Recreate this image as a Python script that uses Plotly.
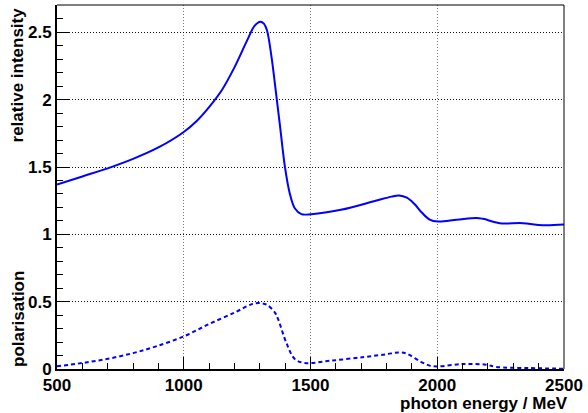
import plotly.graph_objects as go

# Data
energy_int = [500, 600, 700, 800, 900, 1000, 1050, 1100, 1150, 1200, 1250, 1280, 1302, 1316,
              1328, 1346, 1361, 1380, 1399, 1418, 1438, 1464, 1503, 1620, 1757, 1820, 1849,
              1880, 1910, 1940, 1970, 2003, 2077, 2155, 2181, 2246, 2337, 2416, 2500]
intensity = [1.37, 1.43, 1.49, 1.56, 1.645, 1.76, 1.84, 1.945, 2.07, 2.24, 2.44, 2.55,
             2.579, 2.565, 2.517, 2.32, 2.097, 1.80, 1.503, 1.306, 1.194, 1.15, 1.15, 1.182,
             1.249, 1.28, 1.288, 1.272, 1.225, 1.16, 1.11, 1.095, 1.108, 1.122, 1.115, 1.083,
             1.083, 1.068, 1.073]

energy_pol = [500, 598, 696, 800, 891, 1000, 1100, 1204, 1269, 1302, 1328, 1361, 1373, 1405,
              1438, 1477, 1581, 1712, 1800, 1849, 1881, 1933, 1970, 2000, 2102, 2193, 2233,
              2362, 2500]
polarisation = [0.02, 0.044, 0.074, 0.118, 0.168, 0.242, 0.334, 0.422, 0.482, 0.489, 0.477,
                0.415, 0.366, 0.193, 0.074, 0.045, 0.062, 0.089, 0.11, 0.123, 0.113, 0.056,
                0.025, 0.019, 0.037, 0.032, 0.015, 0.007, 0.002]

x_ticks = [500, 1000, 1500, 2000, 2500]
y_ticks = [0, 0.5, 1, 1.5, 2, 2.5]
y_tick_labels = ["0", "0.5", "1", "1.5", "2", "2.5"]

FONT = "Liberation Sans, Arial, sans-serif"

fig = go.Figure()
fig.add_trace(go.Scatter(x=energy_int, y=intensity, mode="lines",
                         line=dict(color="#0000ff", width=2, shape="spline", smoothing=1.0),
                         showlegend=False, hoverinfo="skip"))
fig.add_trace(go.Scatter(x=energy_pol, y=polarisation, mode="lines",
                         line=dict(color="#0000ff", width=2, shape="spline", smoothing=1.0,
                                   dash="4px,3px"),
                         showlegend=False, hoverinfo="skip"))

fig.update_layout(
    width=588, height=413,
    margin=dict(l=57, r=20, t=5, b=44),
    paper_bgcolor="white", plot_bgcolor="white",
    font=dict(family=FONT, color="black"),
    xaxis=dict(range=[500, 2500], tickvals=x_ticks, ticks="inside", ticklen=12,
               tickwidth=1, tickcolor="black",
               minor=dict(ticks="inside", dtick=100, ticklen=6, tickcolor="black", showgrid=False),
               showgrid=True, gridcolor="#777777", griddash="1px,2px", gridwidth=1,
               showline=True, linecolor="black", linewidth=2, zeroline=False,
               tickfont=dict(size=17, weight="bold", family=FONT)),
    yaxis=dict(range=[0, 2.703], tickvals=y_ticks, ticktext=y_tick_labels, ticks="inside",
               ticklen=12, tickwidth=1, tickcolor="black",
               minor=dict(ticks="inside", dtick=0.1, ticklen=6, tickcolor="black", showgrid=False),
               showgrid=True, gridcolor="#111111", griddash="1px,2px", gridwidth=1,
               showline=True, linecolor="black", linewidth=2, zeroline=False,
               tickfont=dict(size=17, weight="bold", family=FONT)),
    shapes=[
        dict(type="line", xref="paper", yref="paper", x0=0, x1=1, y0=1, y1=1,
             line=dict(color="black", width=1)),
        dict(type="line", xref="paper", yref="paper", x0=1, x1=1, y0=0, y1=1,
             line=dict(color="black", width=1)),
    ],
    annotations=[
        dict(text="relative intensity", xref="paper", yref="paper", x=-0.077, y=1,
             xanchor="center", yanchor="top", textangle=-90, showarrow=False,
             font=dict(size=17, weight="bold", family=FONT)),
        dict(text="polarisation", xref="paper", yref="paper", x=-0.077, y=0,
             xanchor="center", yanchor="bottom", textangle=-90, showarrow=False,
             font=dict(size=17, weight="bold", family=FONT)),
        dict(text="photon energy / MeV", xref="paper", yref="paper", x=1.012, y=-0.064,
             xanchor="right", yanchor="top", showarrow=False,
             font=dict(size=17, weight="bold", family=FONT)),
    ],
)

fig.write_html("out.html", config={"displayModeBar": False},
               post_script="document.body.style.margin='0';document.body.style.padding='0';")
